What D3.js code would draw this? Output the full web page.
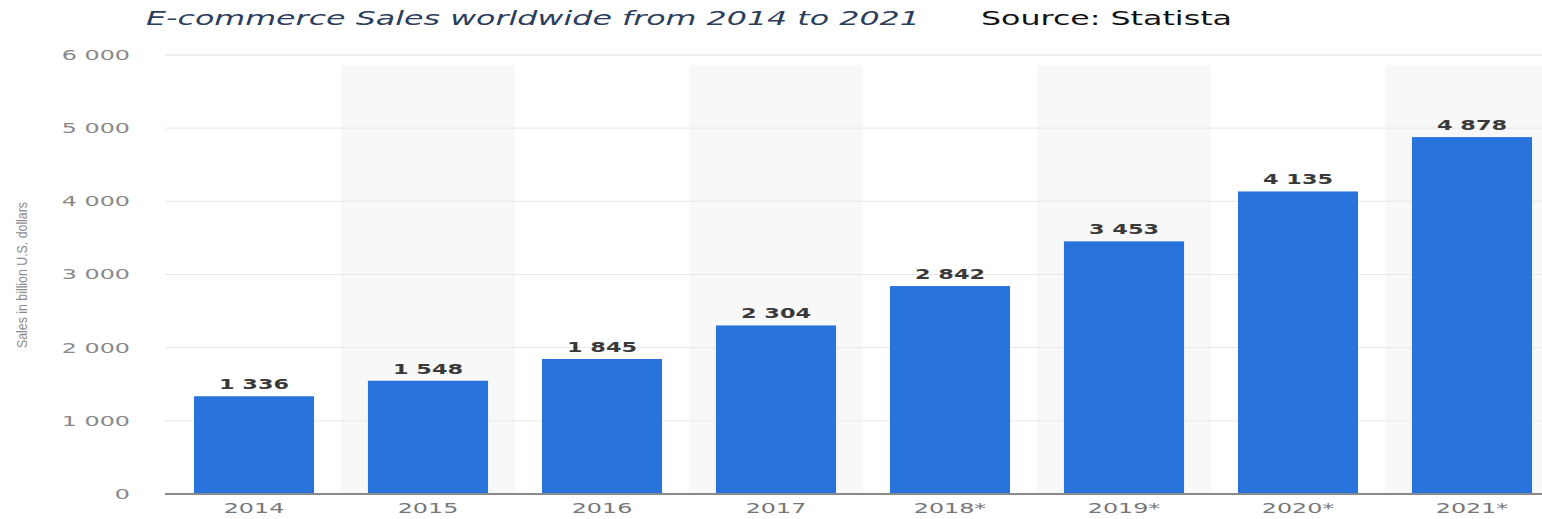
<!DOCTYPE html>
<html>
<head>
<meta charset="utf-8">
<script src="https://cdn.jsdelivr.net/npm/d3@7"></script>
<style>
  body { margin: 0; background: #fff; }
  svg { display: block; }
</style>
</head>
<body>
<svg id="svg" width="1542" height="519"></svg>
<script>
var years = ["2014", "2015", "2016", "2017", "2018*", "2019*", "2020*", "2021*"];
var sales = [1336, 1548, 1845, 2304, 2842, 3453, 4135, 4878];
var yTicks = [0, 1000, 2000, 3000, 4000, 5000, 6000];

var svg = d3.select("#svg"),
    width = +svg.attr("width"),
    height = +svg.attr("height");

var font = "'DejaVu Sans', sans-serif";

// stretch text horizontally, the source picture is squashed wide
function stretch(sel, k) {
  sel.each(function() {
    var w = this.getComputedTextLength();
    d3.select(this).attr("textLength", w * k).attr("lengthAdjust", "spacingAndGlyphs");
  });
}

function fmt(d) { return d3.format(",")(d).replace(",", " "); }

var x = d3.scaleBand()
    .domain(years)
    .range([167, 1559])
    .paddingInner(0.31)
    .paddingOuter(0.155);

var bandStep = x.step();

var y = d3.scaleLinear()
    .domain([0, 6000])
    .range([494, 55]);

// alternating background columns
svg.append("g")
  .selectAll("rect")
  .data(years.filter(function(d, i) { return i % 2 == 1; }))
  .enter().append("rect")
    .attr("x", function(d) { return x(d) - x.paddingInner() * bandStep / 2; })
    .attr("y", 65)
    .attr("width", bandStep)
    .attr("height", y(0) - 65)
    .attr("fill", "#f8f8f8");

// grid
svg.append("g")
  .selectAll("line")
  .data(yTicks.slice(1))
  .enter().append("line")
    .attr("x1", 165)
    .attr("x2", width)
    .attr("y1", function(d) { return y(d); })
    .attr("y2", function(d) { return y(d); })
    .attr("stroke", function(d) { return d == 6000 ? "#dcdcdc" : "#e8e8e8"; })
    .attr("stroke-width", 1);

var yAxis = svg.append("g")
    .attr("transform", "translate(130,0)")
    .call(d3.axisLeft(y)
      .tickValues(yTicks)
      .tickSize(0)
      .tickPadding(0)
      .tickFormat(fmt));
yAxis.select(".domain").remove();
yAxis.selectAll("text")
    .attr("font-family", font)
    .attr("font-size", 14)
    .attr("fill", "#888")
    .call(stretch, 1.7);

// bars
svg.append("g")
  .selectAll("rect")
  .data(sales)
  .enter().append("rect")
    .attr("x", function(d, i) { return x(years[i]); })
    .attr("y", function(d) { return y(d); })
    .attr("width", x.bandwidth())
    .attr("height", function(d) { return y(0) - y(d); })
    .attr("fill", "#2874dc");

// value labels
svg.append("g")
  .selectAll("text")
  .data(sales)
  .enter().append("text")
    .attr("x", function(d, i) { return x(years[i]) + x.bandwidth() / 2; })
    .attr("y", function(d) { return y(d) - 7; })
    .attr("text-anchor", "middle")
    .attr("font-family", font)
    .attr("font-weight", "bold")
    .attr("font-size", 14)
    .attr("fill", "#3a3a3a")
    .text(fmt)
    .call(stretch, 1.6);

// baseline
svg.append("line")
    .attr("x1", 165)
    .attr("x2", width)
    .attr("y1", y(0))
    .attr("y2", y(0))
    .attr("stroke", "#8a8a8a")
    .attr("stroke-width", 2);

var xAxis = svg.append("g")
    .attr("transform", "translate(0," + y(0) + ")")
    .call(d3.axisBottom(x).tickSize(0).tickPadding(9));
xAxis.select(".domain").remove();
xAxis.selectAll("text")
    .attr("font-family", font)
    .attr("font-size", 14)
    .attr("fill", "#777")
    .call(stretch, 1.7);

// y axis title
svg.append("text")
    .attr("transform", "translate(27,275)rotate(-90)")
    .attr("text-anchor", "middle")
    .attr("font-family", "'Liberation Sans Narrow', 'Liberation Sans', sans-serif")
    .attr("font-size", 15)
    .attr("fill", "#8c8c8c")
    .attr("textLength", 146)
    .attr("lengthAdjust", "spacingAndGlyphs")
    .text("Sales in billion U.S. dollars");

svg.append("text")
    .attr("x", 146)
    .attr("y", 25)
    .attr("font-family", font)
    .attr("font-style", "italic")
    .attr("font-size", 20)
    .attr("fill", "#2c3e5c")
    .attr("textLength", 774)
    .attr("lengthAdjust", "spacingAndGlyphs")
    .text("E-commerce Sales worldwide from 2014 to 2021");

svg.append("text")
    .attr("x", 981)
    .attr("y", 25)
    .attr("font-family", font)
    .attr("font-size", 19)
    .attr("fill", "#111")
    .attr("textLength", 251)
    .attr("lengthAdjust", "spacingAndGlyphs")
    .text("Source: Statista");
</script>
</body>
</html>
